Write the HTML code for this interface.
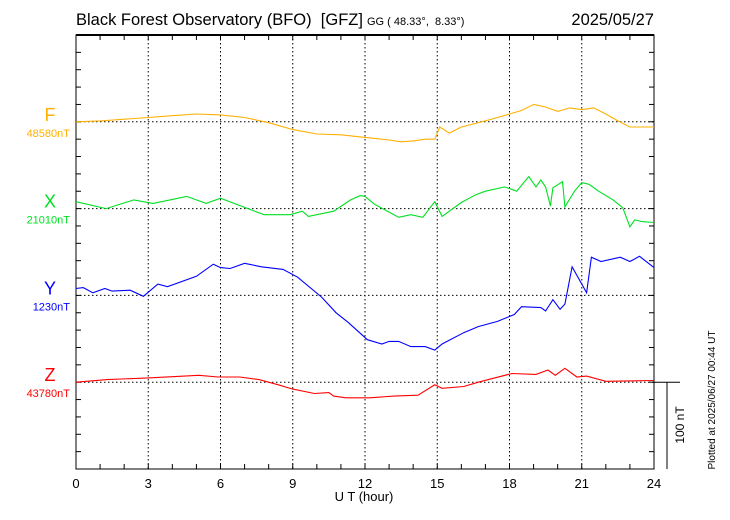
<!DOCTYPE html>
<html><head><meta charset="utf-8"><style>
body{margin:0;background:#fff}
svg{display:block;font-family:"Liberation Sans",sans-serif}
</style></head><body>
<svg id="c" width="730" height="520">
<text x="76" y="25" font-size="16.5">Black Forest Observatory (BFO)&#160;&#160;[GFZ]</text>
<text x="367" y="25" font-size="11">GG ( 48.33°,&#160;&#160;8.33°)</text>
<text x="654" y="25" font-size="16.5" text-anchor="end">2025/05/27</text>
<text x="364" y="501" font-size="13" text-anchor="middle">U T (hour)</text>
<text transform="translate(715,400) rotate(-90)" font-size="10" text-anchor="middle">Plotted at 2025/06/27 00:44 UT</text>
<text transform="translate(684,425) rotate(-90)" font-size="12" text-anchor="middle">100 nT</text>
</svg>
<script>
const xTicks=[0,3,6,9,12,15,18,21,24];
const fHours=[0,1,2,3,4,5,6,7,8,9,10,11,12,13,13.5,14,14.5,14.9,15.1,15.5,16,17,18,18.5,19,19.5,20,20.5,21,21.5,22,22.5,23,24];
const fVals=[0,1,3,5,7,9,8,5,-1,-9,-14,-15,-18,-21,-23,-22,-20,-20,-6,-13,-6,1,9,13,20,17,12,16,14,16,9,1,-6,-6];
const xHours=[0,1.25,2.4,3.2,4.6,5.4,6,7.8,8.9,9.4,9.65,10.7,11.4,11.8,12,12.4,12.8,13.4,13.9,14.4,14.9,15.2,16,16.6,17,17.8,18.3,18.8,19.1,19.3,19.5,19.7,19.8,20.2,20.3,20.7,21,21.3,21.7,22.3,22.7,23,23.2,23.5,24];
const xVals=[8,0,10,6,14,6,12,-7,-7,-3,-9,-3,10,15,14,5,-1,-10,-7,-10,8,-9,7,16,20,25,20,37,25,33,25,3,24,31,2,20,30,28,20,10,1,-21,-13,-15,-16];
const yHours=[0,0.3,0.7,1.2,1.5,2.25,2.8,3.4,3.8,5,5.7,6,6.4,7,7.7,8.6,9.2,10.2,10.8,11.3,12.1,12.7,13,13.4,13.9,14.5,14.9,15.2,16.1,16.7,17.5,18.2,18.5,19.3,19.5,19.8,20.1,20.3,20.6,21,21.2,21.4,21.8,22.6,23,23.4,24];
const yVals=[8,9,3,8,5,6,-1,13,10,22,36,32,31,37,33,30,21,-2,-20,-31,-51,-56,-53,-53,-59,-59,-63,-56,-43,-36,-30,-22,-13,-14,-18,-5,-16,-10,33,13,3,44,39,44,39,45,32];
const zHours=[0,1.3,3,5.1,5.9,6.8,7.6,8.4,9,9.9,10.5,10.7,11.2,12.2,13.2,14.2,14.9,15.2,16.1,16.7,18.1,19.1,19.6,19.9,20.3,20.8,21.2,22,24];
const zVals=[0,3,5,8,6,6,3,-3,-8,-13,-12,-16,-18,-18,-16,-15,-3,-7,-5,0,10,9,14,8,16,6,7,1,2];
const comps=["F","X","Y","Z"];
const baseLabels=["48580nT","21010nT","1230nT","43780nT"];
const ns="http://www.w3.org/2000/svg",svg=document.getElementById('c');
const L=76,R=654,T=35,B=469,step=(B-T)/25,pxPerNT=step/20;
const bases=[T+5*step,T+10*step,T+15*step,T+20*step];
const colors=["#ffb000","#00e020","#0000ff","#ff0000"];
const sx=h=>L+h/24*(R-L);
const sy=(i,v)=>bases[i]-v*pxPerNT;
function mk(t,a){const e=document.createElementNS(ns,t);for(const k in a)e.setAttribute(k,a[k]);svg.appendChild(e);return e;}
xTicks.slice(1,-1).forEach(h=>{const e=mk('line',{x1:sx(h),x2:sx(h),y1:T,y2:B,stroke:'#000','stroke-width':1,'stroke-dasharray':'1.5,2.5'});

});
bases.forEach(b=>{const e=mk('line',{x1:L,x2:R,y1:b,y2:b,stroke:'#000','stroke-width':1,'stroke-dasharray':'1.5,2.5'});

});
for(let h=0;h<=24;h++){[[T,T+5],[B,B-5]].forEach(p=>{const e=mk('line',{x1:sx(h),x2:sx(h),y1:p[0],y2:p[1],stroke:'#000'});

});}
for(let k=0;k<=25;k++){const y=T+k*step;[[L,L+5],[R,R-5]].forEach(p=>{const e=mk('line',{x1:p[0],x2:p[1],y1:y,y2:y,stroke:'#000'});

});}
xTicks.forEach(h=>{const t=mk('text',{x:sx(h),y:488,'font-size':13,'text-anchor':'middle'});t.textContent=h;

});
const fr=mk('rect',{x:L,y:T,width:R-L,height:B-T,fill:'none',stroke:'#000','stroke-width':1});


const tl=mk('line',{x1:L,x2:R,y1:T,y2:T,stroke:'#000','stroke-width':2});


const H=[fHours,xHours,yHours,zHours],V=[fVals,xVals,yVals,zVals];
comps.forEach((c,i)=>{
 const d=H[i].map((h,j)=>(j?'L':'M')+sx(h).toFixed(1)+','+sy(i,V[i][j]).toFixed(1)).join('');
 const p=mk('path',{d:d,fill:'none',stroke:colors[i],'stroke-width':1.1});
 
 
 const t=mk('text',{x:50,y:bases[i]-1,'font-size':18,fill:colors[i],'text-anchor':'middle'});t.textContent=c;
 
 
 const b=mk('text',{x:70,y:bases[i]+15,'font-size':11,fill:colors[i],'text-anchor':'end'});b.textContent=baseLabels[i];
 
 
});
const s1=mk('line',{x1:R,x2:680,y1:bases[3],y2:bases[3],stroke:'#000'});


const s2=mk('line',{x1:667,x2:667,y1:bases[3],y2:B,stroke:'#000'});


</script>
</body></html>
